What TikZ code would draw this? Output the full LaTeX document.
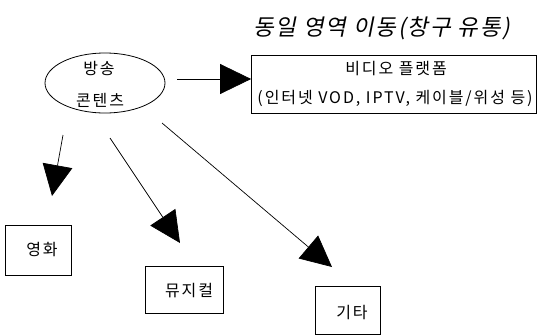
\documentclass[tikz,border=0pt]{standalone}
\usepackage{fontspec}
\setmainfont{Noto Sans CJK KR}[LetterSpace=12]
\newfontfamily\titlefont{Noto Sans CJK KR}[FakeSlant=0.2,LetterSpace=8]
\usetikzlibrary{arrows.meta,shapes.geometric}
\newcommand\bodysize{\fontsize{16}{19}\selectfont}
\tikzset{
  box/.style={draw,line width=0.8pt},
  lbl/.style={font=\bodysize,inner sep=0pt},
  conn/.style={line width=0.7pt,-{Triangle[length=31pt,width=30pt]}},
}
\begin{document}
\begin{tikzpicture}[x=1pt,y=-1pt]
\useasboundingbox (0,0) rectangle (541,335);
\node (title) at (382,28) {\titlefont\fontsize{22.5}{25}\selectfont 동일 영역 이동(창구 유통)};
\node (src) [draw,ellipse,line width=0.8pt,minimum width=120pt,minimum height=60pt] at (105,83) {};
\node (srcA) [lbl] at (99,68) {방송};
\node (srcB) [lbl] at (100,100) {콘텐츠};
\node (vbox) [box,minimum width=285pt,minimum height=58pt] at (394,84) {};
\node (vA) [lbl] at (396,69) {비디오 플랫폼};
\node (vB) [lbl] at (395,98) {(인터넷 VOD, IPTV, 케이블/위성 등)};
\node (movie) [box,minimum width=66pt,minimum height=50pt,inner sep=0pt] at (38,250) {};
\node (movieT) [lbl] at (42,250) {영화};
\node (musical) [box,minimum width=78pt,minimum height=47pt] at (184,290) {};
\node (musicalT) [lbl] at (189,291) {뮤지컬};
\node (etc) [box,minimum width=65pt,minimum height=48pt] at (348,310) {};
\node (etcT) [lbl] at (352,313) {기타};
\coordinate (s0) at (177,79);
\coordinate (s1) at (63,135);
\coordinate (e1) at (52,196);
\coordinate (s2) at (110,138);
\coordinate (e2) at (180,243);
\coordinate (s3) at (162,123);
\coordinate (e3) at (332,267);
\draw[conn] (s0) -- (vbox.west |- s0);
\draw[conn] (s1) -- (e1);
\draw[conn] (s2) -- (e2);
\draw[conn] (s3) -- (e3);
\end{tikzpicture}
\end{document}
